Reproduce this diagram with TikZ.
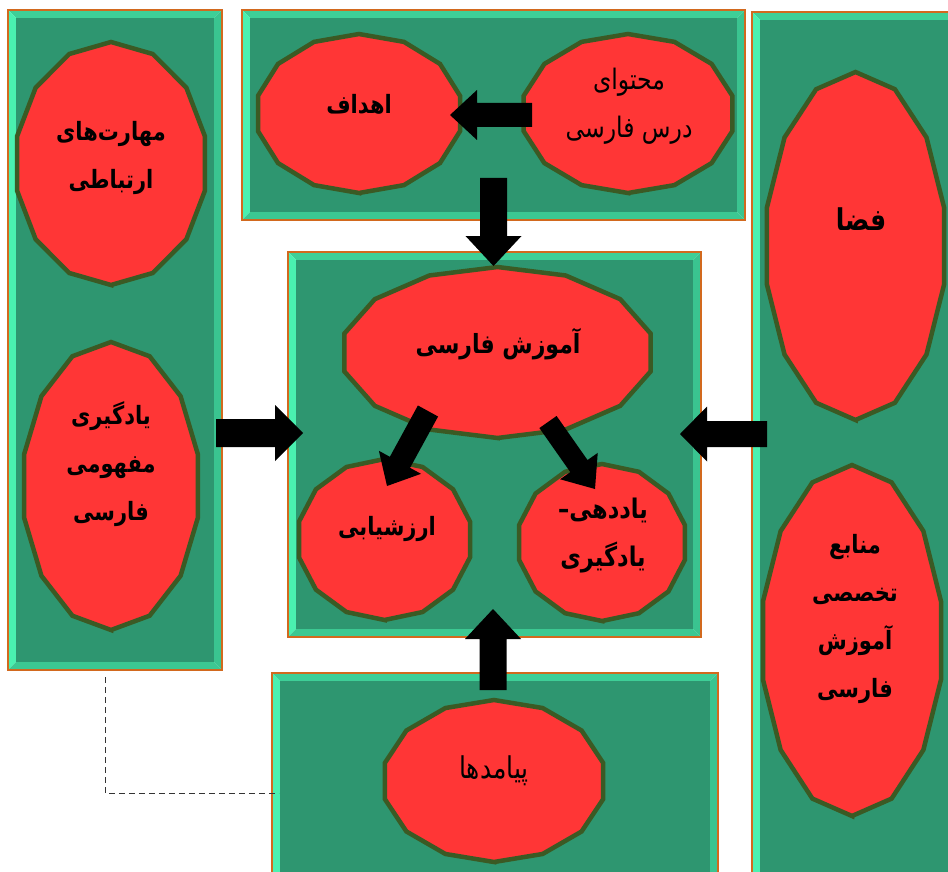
\documentclass[tikz,border=0pt]{standalone}
\usepackage{fontspec}
\newfontfamily\arfont[Script=Arabic]{DejaVu Sans}
\TeXXeTstate=1
\usetikzlibrary{calc}

\definecolor{boxfill}{HTML}{2E9670}
\definecolor{bevtop}{HTML}{3ECF97}
\definecolor{bevleft}{HTML}{4AF0B0}
\definecolor{bevright}{HTML}{3AC490}
\definecolor{bevbot}{HTML}{3CC892}
\definecolor{boxline}{HTML}{D2691E}
\definecolor{ellfill}{HTML}{FF3636}
\definecolor{ellline}{HTML}{3B5A24}
\definecolor{dashcol}{HTML}{333333}

\tikzset{
  ellshape/.style={fill=ellfill, draw=ellline, line width=4.5pt, line join=miter},
  boxedge/.style={draw=boxline, line width=1.2pt},
  arrowfill/.style={fill=black},
  lbl/.style={font=\arfont\bfseries\fontsize{21}{40}\selectfont, align=center, inner sep=0pt, text=black},
  lblyd/.style={font=\arfont\bfseries\fontsize{22.5}{40}\selectfont, align=center, inner sep=0pt, text=black},
  lblreg/.style={font=\arfont\fontsize{23.5}{40}\selectfont, align=center, inner sep=0pt, text=black},
  lblpay/.style={font=\arfont\fontsize{25}{40}\selectfont, align=center, inner sep=0pt, text=black},
  biglbl/.style={font=\arfont\bfseries\fontsize{22}{40}\selectfont, align=center, inner sep=0pt, text=black},
  fazalbl/.style={font=\arfont\bfseries\fontsize{25}{40}\selectfont, align=center, inner sep=0pt, text=black},
  dashline/.style={draw=dashcol, line width=1pt, dash pattern=on 6pt off 4pt}
}

% name, x1, y1, x2, y2
\newcommand{\bevelbox}[5]{%
  \fill[bevtop] (#2,#3) -- (#4,#3) -- (#4-8,#3+8) -- (#2+8,#3+8) -- cycle;
  \fill[bevleft] (#2,#3) -- (#2+8,#3+8) -- (#2+8,#5-8) -- (#2,#5) -- cycle;
  \fill[bevright] (#4,#3) -- (#4,#5) -- (#4-8,#5-8) -- (#4-8,#3+8) -- cycle;
  \fill[bevbot] (#2,#5) -- (#2+8,#5-8) -- (#4-8,#5-8) -- (#4,#5) -- cycle;
  \fill[boxfill] (#2+8,#3+8) rectangle (#4-8,#5-8);
  \draw[boxedge] (#2,#3) coordinate (#1-nw) rectangle (#4,#5) coordinate (#1-se);
}

% name, cx, cy, rx, ry
\newcommand{\polyell}[5]{%
  \coordinate (#1) at (#2,#3);
  \filldraw[ellshape] plot[samples=15, domain=90:450, variable=\t] ({#2+#4*cos(\t)},{#3+#5*sin(\t)}) -- cycle;
}

% [style] name, x, y, text  (text stretched vertically)
\newcommand{\lbltext}[5][lbl]{%
  \begin{scope}[shift={(#3,#4)}, yscale=1.2]
    \node[#1, transform shape] (#2) at (0,0) {#5};
  \end{scope}
}

% start, end, shaft half, head half, head length
\newcommand{\blockarrow}[5]{%
  \coordinate (ba-b) at ($(#2)!#5!(#1)$);
  \fill[arrowfill] ($(#1)!#3!90:(#2)$) -- ($(ba-b)!#3!-90:(#1)$) -- ($(ba-b)!#4!-90:(#1)$) -- (#2)
    -- ($(ba-b)!#4!90:(#1)$) -- ($(ba-b)!#3!90:(#1)$) -- ($(#1)!#3!-90:(#2)$) -- cycle;
}

\begin{document}
\begin{tikzpicture}[x=1pt, y=-1pt]
\clip (0,0) rectangle (948,872);
\fill[white] (0,0) rectangle (948,872);

% boxes
\bevelbox{leftbox}{8}{10}{222}{670}
\bevelbox{topbox}{242}{10}{745}{220}
\bevelbox{rightbox}{752}{12}{962}{890}
\bevelbox{centerbox}{288}{252}{701}{637}
\bevelbox{bottombox}{272}{673}{718}{890}

% ellipses
\polyell{e-maharat}{111}{163.5}{96.4}{121.5}
\polyell{e-yadgiri}{111}{486}{89}{144}
\polyell{e-ahdaf}{359}{113.5}{103.6}{79.5}
\polyell{e-mohtava}{628}{113.5}{107}{79.5}
\polyell{e-faza}{855.5}{246}{90.8}{174}
\polyell{e-manabe}{852}{640.5}{91.3}{175.5}
\polyell{e-amuzesh}{497.5}{352.5}{157}{85.5}
\polyell{e-arzeshyabi}{384.5}{539.5}{87.7}{80.5}
\polyell{e-yaddehi}{602}{542.5}{85}{78.5}
\polyell{e-payamad}{494}{781}{112}{81}

% labels
\lbltext{t-maharat}{111}{158}{\beginR مهارت‌های\endR\\\beginR ارتباطی\endR}
\lbltext{t-yadgiri}{111}{464}{\beginR یادگیری\endR\\\beginR مفهومی\endR\\\beginR فارسی\endR}
\lbltext{t-ahdaf}{359}{104}{\beginR اهداف\endR}
\lbltext[lblreg]{t-mohtava}{629}{106}{\beginR محتوای\endR\\\beginR درس فارسی\endR}
\lbltext[fazalbl]{t-faza}{861}{219}{\beginR فضا\endR}
\lbltext{t-manabe}{855}{619}{\beginR منابع\endR\\\beginR تخصصی\endR\\\beginR آموزش\endR\\\beginR فارسی\endR}
\lbltext[biglbl]{t-amuzesh}{498}{344}{\beginR آموزش فارسی\endR}
\lbltext{t-arzeshyabi}{387}{529}{\beginR ارزشیابی\endR}
\lbltext[lblyd]{t-yaddehi}{603}{536}{\beginR یاددهی–\endR\\\beginR یادگیری\endR}
\lbltext[lblpay]{t-payamad}{494}{771}{\beginR پیامدها\endR}

% connector anchors
\coordinate (a1s) at (532,115);  \coordinate (a1e) at (450,115);
\coordinate (a2s) at (493.5,178); \coordinate (a2e) at (493.5,266);
\coordinate (a3s) at (216,433);  \coordinate (a3e) at (303,433);
\coordinate (a4s) at (767,434);  \coordinate (a4e) at (680,434);
\coordinate (a5s) at (493,690);  \coordinate (a5e) at (493,609);
\coordinate (a6s) at (428,411);  \coordinate (a6e) at (387,486);
\coordinate (a7s) at (548,422);  \coordinate (a7e) at (595,489);

% dashed connector
\coordinate (d1) at (105,677);
\coordinate (d2) at (279,793);
\draw[dashline] (d1) |- (d2);

% block arrows
\blockarrow{a1s}{a1e}{12pt}{25pt}{27pt}
\blockarrow{a2s}{a2e}{13.5pt}{28pt}{30pt}
\blockarrow{a3s}{a3e}{14pt}{28pt}{28pt}
\blockarrow{a4s}{a4e}{13pt}{27.5pt}{27pt}
\blockarrow{a5s}{a5e}{13.5pt}{28pt}{30pt}
\blockarrow{a6s}{a6e}{11.5pt}{24pt}{27pt}
\blockarrow{a7s}{a7e}{10.5pt}{23pt}{28pt}
\end{tikzpicture}
\end{document}
